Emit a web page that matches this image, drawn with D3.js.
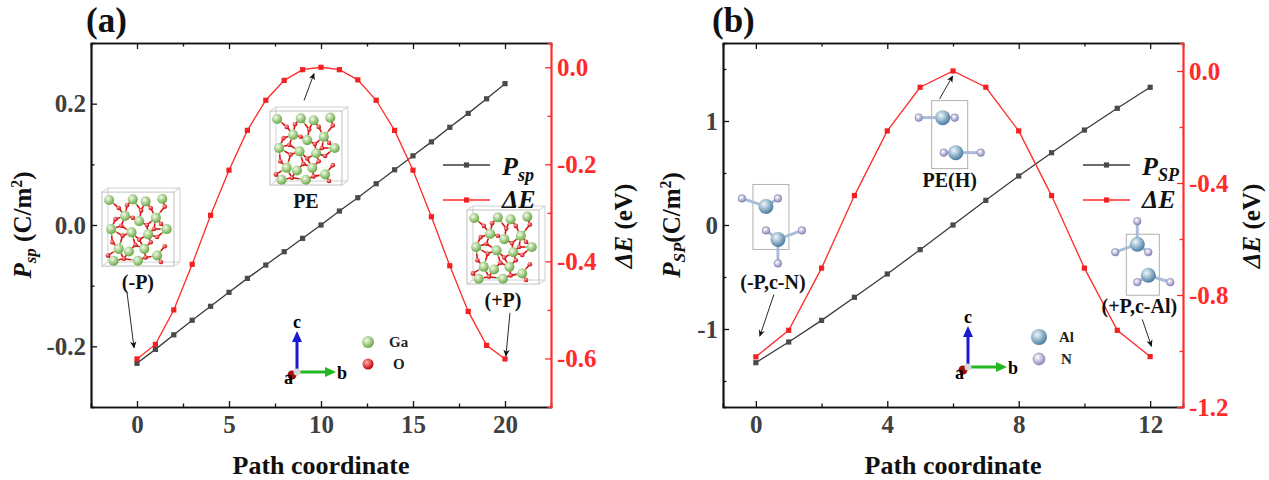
<!DOCTYPE html>
<html><head><meta charset="utf-8">
<script src="https://cdn.jsdelivr.net/npm/d3@7"></script>
<style>
body{margin:0;background:#fff}
svg{display:block}
text{font-family:"Liberation Serif","Times New Roman",serif;font-weight:bold}
</style>
</head><body>
<svg id="chart" width="1269" height="480"></svg>
<script>
// ---------------- data ----------------
const pathA = [0,1,2,3,4,5,6,7,8,9,10,11,12,13,14,15,16,17,18,19,20];
const psA = [-0.228,-0.205,-0.181,-0.157,-0.134,-0.111,-0.088,-0.066,-0.044,-0.022,0.000,0.023,0.045,0.068,0.091,0.114,0.137,0.161,0.184,0.208,0.233];
const deA = [-0.601,-0.571,-0.500,-0.406,-0.305,-0.212,-0.130,-0.068,-0.027,-0.005,0.000,-0.005,-0.026,-0.068,-0.130,-0.212,-0.308,-0.409,-0.503,-0.573,-0.601];

const pathB = [0,1,2,3,4,5,6,7,8,9,10,11,12];
const psB = [-1.324,-1.125,-0.917,-0.695,-0.471,-0.237,0.000,0.237,0.471,0.695,0.913,1.122,1.324];
const deB = [-1.021,-0.926,-0.704,-0.445,-0.214,-0.058,0.000,-0.058,-0.214,-0.445,-0.704,-0.926,-1.020];

const xTicksA = [0,5,10,15,20], xMinorA = [2.5,7.5,12.5,17.5];
const yLTicksA = [-0.2,0.0,0.2], yLMinorA = [-0.1,0.1];
const yRTicksA = [0.0,-0.2,-0.4,-0.6], yRMinorA = [-0.1,-0.3,-0.5];

const xTicksB = [0,4,8,12], xMinorB = [2,6,10];
const yLTicksB = [-1,0,1], yLMinorB = [-1.5,-0.5,0.5,1.5];
const yRTicksB = [0.0,-0.4,-0.8,-1.2], yRMinorB = [-0.2,-0.6,-1.0];

const labelsA = [
  {t:"(-P)", x:0.05, v:-0.457, a:[[-0.54,-0.465],[-0.16,-0.578]]},
  {t:"PE",   x:9.18, v:-0.290, a:[[9.08,-0.0685],[9.62,-0.013]]},
  {t:"(+P)", x:19.89,v:-0.494, a:[[20.27,-0.506],[20.05,-0.595]]}
];
const labelsB = [
  {t:"(-P,c-N)",  x:0.52, v:-0.780, a:[[0.55,-0.798],[0.12,-0.947]]},
  {t:"PE(H)",     x:5.90, v:-0.413, a:[[5.59,-0.0997],[5.99,-0.0178]]},
  {t:"(+P,c-Al)", x:11.67,v:-0.865, a:[[11.76,-0.887],[12.04,-0.983]]}
];

const RED = "#ff2a2a", BLK = "#3a3a3a", TICKC = "#404040";

// ---------------- setup ----------------
const svg = d3.select("#chart");
const defs = svg.append("defs");
function radGrad(id,c0,c1){
  const g = defs.append("radialGradient").attr("id",id).attr("cx","38%").attr("cy","35%").attr("r","65%");
  g.append("stop").attr("offset","0%").attr("stop-color",c0);
  g.append("stop").attr("offset","100%").attr("stop-color",c1);
}
radGrad("gGa","#f2fbe8","#6aa845");
radGrad("gO","#ffb0b0","#c40000");
radGrad("gAl","#eef7fc","#4a7ea2");
radGrad("gN","#ffffff","#8c8cc0");
defs.append("marker").attr("id","arr").attr("viewBox","0 0 10 10").attr("refX",9).attr("refY",5)
  .attr("markerWidth",7).attr("markerHeight",7).attr("markerUnits","userSpaceOnUse").attr("orient","auto")
  .append("path").attr("d","M0,0.5 L10,5 L0,9.5 L3,5 Z").attr("fill","#111");

// crystal decoration (normalized atom layout)
const gaPos = [[0.05,0.06],[0.42,0.05],[0.62,0.08],[0.88,0.04],[0.3,0.3],[0.52,0.38],[0.78,0.33],[0.08,0.5],[0.4,0.55],[0.66,0.58],[0.95,0.5],[0.2,0.8],[0.36,0.84],[0.6,0.8],[0.8,0.9],[0.12,0.98],[0.5,0.98]];
const oPos = [[0.2,0.18],[0.33,0.14],[0.55,0.22],[0.7,0.18],[0.92,0.16],[0.15,0.35],[0.42,0.33],[0.64,0.44],[0.86,0.42],[0.26,0.6],[0.52,0.66],[0.8,0.62],[0.1,0.7],[0.46,0.74],[0.7,0.7],[0.92,0.76],[0.28,0.95],[0.62,0.93],[0.86,1.0],[0.03,0.9],[0.24,0.45],[0.75,0.5]];
function crystal(g, x0, y0, w, h){
  const c = g.append("g");
  const dx = 6, dy = -4;
  c.append("rect").attr("x",x0+dx).attr("y",y0+dy).attr("width",w).attr("height",h).attr("fill","none").attr("stroke","#c4c4c4").attr("stroke-width",0.8);
  c.append("rect").attr("x",x0).attr("y",y0).attr("width",w).attr("height",h).attr("fill","none").attr("stroke","#b0b0b0").attr("stroke-width",0.8);
  [[0,0],[w,0],[0,h],[w,h]].forEach(p=>c.append("line").attr("x1",x0+p[0]).attr("y1",y0+p[1]).attr("x2",x0+p[0]+dx).attr("y2",y0+p[1]+dy).attr("stroke","#c4c4c4").attr("stroke-width",0.8));
  const P = p => [x0+4+p[0]*(w-8), y0+4+p[1]*(h-8)];
  gaPos.forEach(a=>{
    const A = P(a);
    oPos.forEach(o=>{
      const O = P(o);
      const d = Math.hypot(A[0]-O[0],A[1]-O[1]);
      if(d < w*0.2){
        const m = [(A[0]+O[0])/2,(A[1]+O[1])/2];
        c.append("line").attr("x1",A[0]).attr("y1",A[1]).attr("x2",m[0]).attr("y2",m[1]).attr("stroke","#7cbf55").attr("stroke-width",1.6);
        c.append("line").attr("x1",m[0]).attr("y1",m[1]).attr("x2",O[0]).attr("y2",O[1]).attr("stroke","#e01010").attr("stroke-width",1.6);
      }
    });
  });
  oPos.forEach(o=>{const O=P(o); c.append("circle").attr("cx",O[0]).attr("cy",O[1]).attr("r",2.3).attr("fill","url(#gO)");});
  gaPos.forEach(a=>{const A=P(a); c.append("circle").attr("cx",A[0]).attr("cy",A[1]).attr("r",w*0.07).attr("fill","url(#gGa)");});
}

// AlN molecule decoration (offsets relative to label anchor)
const molA = [
  {box:[-20,-105,36,65], al:[[-7,-83],[5,-50]], n:[[-31,-91],[5,-91],[-7,-59],[29,-59],[5,-26]]},
  {box:[-18,-86,36,68],  al:[[-7,-69],[6,-34]], n:[[-31,-69],[5,-69],[-6,-34],[31,-34]]},
  {box:[-13,-79,33,61],  al:[[-2,-69],[9,-38]], n:[[-2,-92],[-24,-61],[9,-61],[-2,-31],[31,-31]]}
];
function molecule(g, ax, ay, m){
  const c = g.append("g");
  c.append("rect").attr("x",ax+m.box[0]).attr("y",ay+m.box[1]).attr("width",m.box[2]).attr("height",m.box[3])
    .attr("fill","none").attr("stroke","#a8a8a8").attr("stroke-width",0.9);
  m.n.forEach(n=>{
    let best=null, bd=1e9;
    m.al.forEach(a=>{const d=Math.hypot(a[0]-n[0],a[1]-n[1]); if(d<bd){bd=d;best=a;}});
    c.append("line").attr("x1",ax+n[0]).attr("y1",ay+n[1]).attr("x2",ax+best[0]).attr("y2",ay+best[1]).attr("stroke","#a9bcd8").attr("stroke-width",3);
  });
  m.n.forEach(n=>c.append("circle").attr("cx",ax+n[0]).attr("cy",ay+n[1]).attr("r",3.8).attr("fill","url(#gN)").attr("stroke","#7a7aa8").attr("stroke-width",0.6));
  m.al.forEach(a=>c.append("circle").attr("cx",ax+a[0]).attr("cy",ay+a[1]).attr("r",7.5).attr("fill","url(#gAl)"));
}

function axesGlyph(g, ox, oy, elems){
  const c = g.append("g");
  c.append("line").attr("x1",ox).attr("y1",oy).attr("x2",ox).attr("y2",oy-32).attr("stroke","#1a1ad0").attr("stroke-width",3);
  c.append("path").attr("d",`M${ox-5},${oy-30} L${ox},${oy-41} L${ox+5},${oy-30} Z`).attr("fill","#1a1ad0");
  c.append("line").attr("x1",ox).attr("y1",oy).attr("x2",ox+30).attr("y2",oy).attr("stroke","#22b822").attr("stroke-width",3);
  c.append("path").attr("d",`M${ox+28},${oy-5} L${ox+39},${oy} L${ox+28},${oy+5} Z`).attr("fill","#22b822");
  c.append("circle").attr("cx",ox-5).attr("cy",oy+3).attr("r",4.5).attr("fill","#a01010");
  c.append("circle").attr("cx",ox).attr("cy",oy).attr("r",3.5).attr("fill","#d8d8d8");
  c.append("text").attr("x",ox).attr("y",oy-44).attr("text-anchor","middle").attr("font-size",18).text("c");
  c.append("text").attr("x",ox+40).attr("y",oy+7).attr("font-size",18).text("b");
  c.append("text").attr("x",ox-13).attr("y",oy+12).attr("font-size",18).text("a");
  elems.forEach((e,i)=>{
    c.append("circle").attr("cx",ox+71).attr("cy",oy-30+i*22).attr("r",e.r).attr("fill",e.fill).attr("stroke",e.stroke||"none").attr("stroke-width",0.6);
    c.append("text").attr("x",ox+71+e.dx).attr("y",oy-25+i*22).attr("font-size",15).attr("fill","#222").text(e.t);
  });
}

function panel(o){
  const g = svg.append("g");
  const x = d3.scaleLinear().domain(o.xDom).range([o.L,o.R]);
  const yl = d3.scaleLinear().domain(o.ylDom).range([o.B,o.T]);
  const yr = d3.scaleLinear().domain(o.yrDom).range([o.B,o.T]);

  function styleAx(sel, col, labCol){
    sel.select(".domain").attr("stroke",col).attr("stroke-width",1.7);
    sel.selectAll(".tick line").attr("stroke",col).attr("stroke-width",1.3);
    sel.selectAll(".tick text").attr("fill",labCol).attr("font-size",25)
      .attr("font-family",'"Liberation Serif","Times New Roman",serif').attr("font-weight","bold");
  }
  // bottom
  const gb = g.append("g").attr("transform",`translate(0,${o.B})`)
    .call(d3.axisBottom(x).tickValues(o.xTicks).tickSizeInner(-6).tickSizeOuter(0).tickPadding(8).tickFormat(d=>String(d)));
  styleAx(gb,"#111",TICKC);
  const gbm = g.append("g").attr("transform",`translate(0,${o.B})`)
    .call(d3.axisBottom(x).tickValues(o.xMinor).tickSize(-3.5).tickFormat(""));
  styleAx(gbm,"#111",TICKC);
  // top
  const gt = g.append("g").attr("transform",`translate(0,${o.T})`)
    .call(d3.axisTop(x).tickValues(o.xTicks).tickSizeInner(-6).tickSizeOuter(0).tickFormat(""));
  styleAx(gt,"#111",TICKC);
  const gtm = g.append("g").attr("transform",`translate(0,${o.T})`)
    .call(d3.axisTop(x).tickValues(o.xMinor).tickSize(-3.5).tickFormat(""));
  styleAx(gtm,"#111",TICKC);
  // left
  const gl = g.append("g").attr("transform",`translate(${o.L},0)`)
    .call(d3.axisLeft(yl).tickValues(o.ylTicks).tickSizeInner(-6).tickSizeOuter(0).tickPadding(5).tickFormat(o.ylFmt));
  styleAx(gl,"#111",TICKC);
  const glm = g.append("g").attr("transform",`translate(${o.L},0)`)
    .call(d3.axisLeft(yl).tickValues(o.ylMinor).tickSize(-3.5).tickFormat(""));
  styleAx(glm,"#111",TICKC);
  // right
  const gr = g.append("g").attr("transform",`translate(${o.R},0)`)
    .call(d3.axisRight(yr).tickValues(o.yrTicks).tickSizeInner(-6).tickSizeOuter(0).tickPadding(6).tickFormat(d=>d.toFixed(1)));
  styleAx(gr,RED,RED);
  const grm = g.append("g").attr("transform",`translate(${o.R},0)`)
    .call(d3.axisRight(yr).tickValues(o.yrMinor).tickSize(-3.5).tickFormat(""));
  styleAx(grm,RED,RED);

  // decorations (under data)
  const deco = g.append("g");
  o.labels.forEach((lb,i)=>{
    const ax = x(lb.x), ay = yr(lb.v);
    if(o.kind==="a") crystal(deco, ax-36, ay-97, 72, 74);
    else molecule(deco, ax, ay, molA[i]);
  });

  // series
  const lineL = d3.line().x((d,i)=>x(o.xs[i])).y(d=>yl(d));
  const lineR = d3.line().x((d,i)=>x(o.xs[i])).y(d=>yr(d));
  g.append("path").attr("d",lineL(o.ps)).attr("fill","none").attr("stroke",BLK).attr("stroke-width",1.3);
  g.selectAll(null).data(o.ps).enter().append("rect")
    .attr("x",(d,i)=>x(o.xs[i])-2.6).attr("y",d=>yl(d)-2.6).attr("width",5.2).attr("height",5.2).attr("fill","#4a4a4a");
  g.append("path").attr("d",lineR(o.de)).attr("fill","none").attr("stroke",RED).attr("stroke-width",1.3);
  g.selectAll(null).data(o.de).enter().append("rect")
    .attr("x",(d,i)=>x(o.xs[i])-2.6).attr("y",d=>yr(d)-2.6).attr("width",5.2).attr("height",5.2).attr("fill","#f22020");

  // annotation labels & arrows
  o.labels.forEach(lb=>{
    g.append("text").attr("x",x(lb.x)).attr("y",yr(lb.v)).attr("text-anchor","middle").attr("font-size",20).attr("fill","#111").text(lb.t);
    g.append("line").attr("x1",x(lb.a[0][0])).attr("y1",yr(lb.a[0][1])).attr("x2",x(lb.a[1][0])).attr("y2",yr(lb.a[1][1]))
      .attr("stroke","#111").attr("stroke-width",0.9).attr("marker-end","url(#arr)");
  });

  // axis glyph + element legend
  axesGlyph(g, o.L+o.glyph[0], o.B+o.glyph[1], o.elems);

  // legend
  const lx0 = o.R-o.legR, lx1 = lx0+47;
  [[BLK,"#4a4a4a",165],[RED,"#f22020",200]].forEach((s,i)=>{
    g.append("line").attr("x1",lx0).attr("x2",lx1).attr("y1",s[2]).attr("y2",s[2]).attr("stroke",s[0]).attr("stroke-width",1.3);
    g.append("rect").attr("x",(lx0+lx1)/2-2.6).attr("y",s[2]-2.6).attr("width",5.2).attr("height",5.2).attr("fill",s[1]);
  });
  const t1 = g.append("text").attr("x",lx1+12).attr("y",175).attr("font-size",26).attr("fill","#111");
  t1.append("tspan").attr("font-style","italic").text("P");
  t1.append("tspan").attr("font-style","italic").attr("font-size",18).attr("dy",6).text(o.sub);
  const t2 = g.append("text").attr("x",lx1+12).attr("y",208).attr("font-size",26).attr("fill","#111");
  t2.append("tspan").attr("font-style","italic").text("ΔE");

  // axis titles
  g.append("text").attr("x",(o.L+o.R)/2).attr("y",474).attr("text-anchor","middle").attr("font-size",26).attr("fill","#111").text("Path coordinate");
  const yt = g.append("text").attr("transform",`translate(${o.yLabX},225) rotate(-90)`).attr("text-anchor","middle").attr("font-size",25).attr("fill","#111");
  yt.append("tspan").attr("font-style","italic").text("P");
  yt.append("tspan").attr("font-style","italic").attr("font-size",17).attr("dy",5).text(o.sub);
  yt.append("tspan").attr("dy",-5).text(o.ySep+"(C/m");
  yt.append("tspan").attr("font-size",16).attr("dy",-9).text("2");
  yt.append("tspan").attr("dy",9).text(")");
  const rt = g.append("text").attr("transform",`translate(${o.yRLabX},226) rotate(-90)`).attr("text-anchor","middle").attr("font-size",25).attr("fill","#111");
  rt.append("tspan").attr("font-style","italic").text("ΔE");
  rt.append("tspan").text(" (eV)");

  // panel title
  g.append("text").attr("x",o.titleX).attr("y",32).attr("font-size",35).attr("fill","#111").text(o.title);
}

panel({kind:"a", L:91, R:551, T:43, B:407, xDom:[-2.5,22.5], ylDom:[-0.3,0.3], yrDom:[-0.7,0.05],
  xTicks:xTicksA, xMinor:xMinorA, ylTicks:yLTicksA, ylMinor:yLMinorA, yrTicks:yRTicksA, yrMinor:yRMinorA,
  ylFmt:d=>d.toFixed(1), xs:pathA, ps:psA, de:deA, labels:labelsA, sub:"sp", ySep:" ",
  yLabX:31, yRLabX:632, legR:108, titleX:86, title:"(a)", glyph:[206,-35],
  elems:[{t:"Ga",r:6,fill:"url(#gGa)",dx:21},{t:"O",r:5.5,fill:"url(#gO)",dx:25}]});

panel({kind:"b", L:723, R:1183, T:43, B:407, xDom:[-1,13], ylDom:[-1.75,1.75], yrDom:[-1.2,0.1],
  xTicks:xTicksB, xMinor:xMinorB, ylTicks:yLTicksB, ylMinor:yLMinorB, yrTicks:yRTicksB, yrMinor:yRMinorB,
  ylFmt:d=>String(d), xs:pathB, ps:psB, de:deB, labels:labelsB, sub:"SP", ySep:"",
  yLabX:680, yRLabX:1260, legR:100, titleX:712, title:"(b)", glyph:[245,-40],
  elems:[{t:"Al",r:8,fill:"url(#gAl)",dx:20},{t:"N",r:6,fill:"url(#gN)",stroke:"#7a7aa8",dx:22}]});
</script>
</body></html>
